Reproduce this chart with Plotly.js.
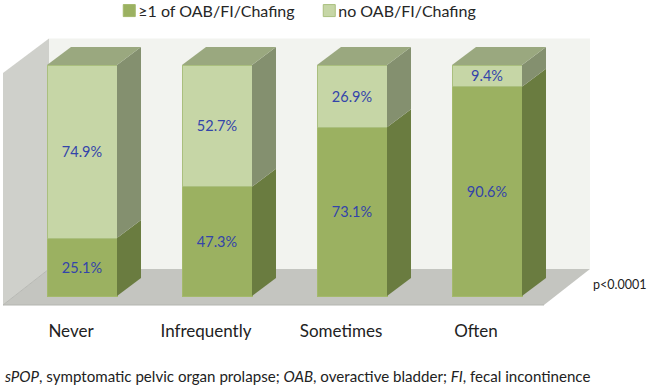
<!DOCTYPE html>
<html>
<head>
<meta charset="utf-8">
<script src="https://cdn.plot.ly/plotly-3.0.1.min.js"></script>
<style>html,body{margin:0;padding:0;background:#fff}</style>
</head>
<body>
<div id="chart" style="width:649px;height:386px"></div>
<script>
var categories = ['Never', 'Infrequently', 'Sometimes', 'Often'];
var withSymptom = [25.1, 47.3, 73.1, 90.6];
var noSymptom = [74.9, 52.7, 26.9, 9.4];
var seriesNames = ['≥1 of OAB/FI/Chafing', 'no OAB/FI/Chafing'];
var footnote = '<i>sPOP</i>, symptomatic pelvic organ prolapse; <i>OAB</i>, overactive bladder; <i>FI</i>, fecal incontinence';
var pValue = 'p<0.0001';

var W = 649, H = 386;
var pxPerCat = 135, pxPerPct = 2.31, x0px = 82, y0px = 296, plotBottom = 316;
var barW = 70 / pxPerCat, dx = 24 / pxPerCat, dy = 18 / pxPerPct;
var FONT = 'Lato, "Open Sans", sans-serif';
var xs = categories.map(function (c, i) { return i; });

function fmt(a) { return a.map(function (v) { return v.toFixed(1) + '%'; }); }

var traces = [];
function barTrace(name, vals, color, line) {
  return {
    type: 'bar', name: name, x: xs, y: vals, width: barW,
    text: fmt(vals), textposition: 'inside', insidetextanchor: 'middle', constraintext: 'none',
    textfont: { family: FONT, size: 14.5, color: '#3344aa' }, textangle: 0,
    marker: { color: color, line: { color: line, width: 1 } }, hoverinfo: 'skip', cliponaxis: false
  };
}
traces.push(barTrace(seriesNames[0], withSymptom, '#9bb161', '#a4b96c'));
traces.push(barTrace(seriesNames[1], noSymptom, '#c6d6a6', '#aabf7e'));

function poly(px, py, color) {
  return { type: 'scatter', mode: 'lines', x: px, y: py, fill: 'toself', fillcolor: color,
    line: { width: 0, color: color }, showlegend: false, hoverinfo: 'skip' };
}
xs.forEach(function (x, i) {
  var l = x - barW / 2, r = x + barW / 2;
  var a = withSymptom[i], b = a + noSymptom[i];
  traces.push(poly([r, r + dx, r + dx, r, r], [0, dy, a + dy, a, 0], '#6a7c40'));
  traces.push(poly([r, r + dx, r + dx, r, r], [a, a + dy, b + dy, b, a], '#84906f'));
  traces.push(poly([l, l + dx, r + dx, r, l], [b, b + dy, b + dy, b, b], '#9aa87f'));
});

function px2x(p) { return p / W; }
function py2y(p) { return 1 - p / plotBottom; }
function pathOf(pts) {
  return pts.map(function (p, i) { return (i ? 'L' : 'M') + p[0] + ',' + p[1]; }).join(' ') + ' Z';
}
var layout = {
  width: W, height: H, autosize: false,
  margin: { l: 0, r: 0, t: 0, b: H - plotBottom, pad: 0, autoexpand: false },
  paper_bgcolor: '#ffffff', plot_bgcolor: 'rgba(0,0,0,0)',
  barmode: 'stack', font: { family: FONT, color: '#222222' },
  showlegend: true,
  legend: { orientation: 'h', x: 0.1514, y: 1.02, xanchor: 'left', yanchor: 'top',
    font: { family: FONT, size: 16, color: '#262626' }, traceorder: 'normal',
    bgcolor: 'rgba(0,0,0,0)', entrywidth: 155, entrywidthmode: 'pixels', itemclick: false, itemdoubleclick: false },
  xaxis: { range: [-x0px / pxPerCat, (W - x0px) / pxPerCat], showgrid: false, zeroline: false, showline: false,
    tickmode: 'array', tickvals: xs.map(function (x) { return x - 11 / pxPerCat; }), ticktext: categories,
    ticks: '', ticklabelstandoff: 3, tickfont: { family: FONT, size: 17, color: '#222222' }, fixedrange: true },
  yaxis: { range: [(y0px - plotBottom) / pxPerPct, y0px / pxPerPct], showgrid: false, zeroline: false, showline: false,
    showticklabels: false, ticks: '', fixedrange: true },
  shapes: [
    { type: 'rect', xref: 'paper', yref: 'paper', layer: 'below', x0: px2x(49), x1: px2x(590), y0: py2y(269), y1: py2y(38.5),
      fillcolor: '#f2f3ef', line: { width: 0 } },
    { type: 'path', xref: 'paper', yref: 'paper', layer: 'below',
      path: pathOf([[px2x(3), py2y(73)], [px2x(49), py2y(38.5)], [px2x(49), py2y(269)], [px2x(3), py2y(305)]]),
      fillcolor: '#cfd0cb', line: { width: 0 } },
    { type: 'path', xref: 'paper', yref: 'paper', layer: 'below',
      path: pathOf([[px2x(3), py2y(305)], [px2x(49), py2y(269)], [px2x(590), py2y(269)], [px2x(544), py2y(305)]]),
      fillcolor: '#c4c5c0', line: { width: 0 } },
    { type: 'line', xref: 'paper', yref: 'paper', layer: 'below', x0: px2x(3), x1: px2x(544), y0: py2y(305), y1: py2y(305),
      line: { color: '#b4b5b0', width: 1 } },
    { type: 'line', xref: 'paper', yref: 'paper', layer: 'below', x0: px2x(3), x1: px2x(49), y0: py2y(305), y1: py2y(269),
      line: { color: '#b8b9b4', width: 1 } }
  ],
  annotations: [
    { xref: 'paper', yref: 'paper', x: px2x(591), y: py2y(284), xanchor: 'left', yanchor: 'middle', showarrow: false,
      text: pValue.replace('<', '&lt;'), font: { family: FONT, size: 12.5, color: '#222222' } },
    { xref: 'paper', yref: 'paper', x: px2x(3), y: py2y(376), xanchor: 'left', yanchor: 'middle', showarrow: false,
      text: footnote, font: { family: FONT, size: 15.1, color: '#222222' } }
  ]
};
Plotly.newPlot('chart', traces, layout, { displayModeBar: false, staticPlot: true }).then(function () {
  document.querySelectorAll('.legendsymbols').forEach(function (n) { n.setAttribute('transform', 'translate(11,0)'); });
});
</script>
</body>
</html>
